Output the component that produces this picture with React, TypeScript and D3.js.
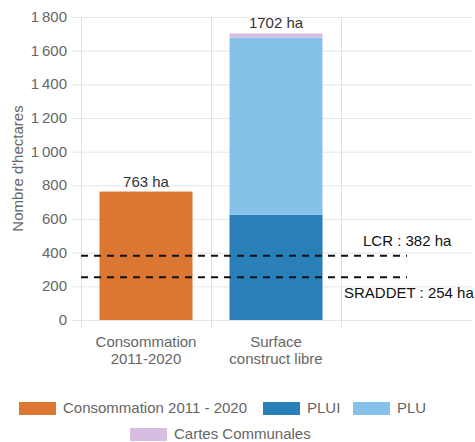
import React, { useRef, useEffect } from "react";
import * as d3 from "d3";

const categories = ["Consommation 2011-2020", "Surface construct libre", ""];
const categoryLines = [["Consommation", "2011-2020"], ["Surface", "construct libre"], []];
const conso = [763, 0, 0];
const plui = [0, 625, 0];
const plu = [0, 1053, 0];
const cartes = [0, 24, 0];
const totals = ["763 ha", "1702 ha", ""];
const yTicks = [0, 200, 400, 600, 800, 1000, 1200, 1400, 1600, 1800];
const thresholds = [
  { name: "LCR", value: 382 },
  { name: "SRADDET", value: 254 },
];
const seriesNames = ["Consommation 2011 - 2020", "PLUI", "PLU", "Cartes Communales"];
const seriesColors = ["#dc7633", "#2980b9", "#85c1e9", "#d7bde2"];

export default function App() {
  const ref = useRef<SVGSVGElement>(null);
  const width = 475;
  const height = 442;

  useEffect(() => {
    const svg = d3.select(ref.current);
    svg.selectAll("*").remove();
    const font = "'Liberation Sans', Arial, sans-serif";
    const fs = 15;
    const left = 81, right = 471, top = 17, bottom = 320;

    const x = d3.scaleBand().domain(categories).range([left, right]).paddingInner(0).paddingOuter(0);
    const y = d3.scaleLinear().domain([0, 1800]).range([bottom, top]);
    const fr = d3.formatLocale({ decimal: ",", thousands: "\u2009", grouping: [3], currency: ["", " €"] });
    const fmt = fr.format(",d");

    // horizontal grid (with small tick to the left)
    svg.append("g").selectAll("line").data(yTicks).enter().append("line")
      .attr("x1", 72).attr("x2", 473)
      .attr("y1", d => y(d) + 0.5).attr("y2", d => y(d) + 0.5)
      .attr("stroke", "#e6e6e6").attr("stroke-width", 1);

    // vertical grid at band edges
    svg.append("g").selectAll("line").data(categories).enter().append("line")
      .attr("x1", d => x(d)! + 0.5).attr("x2", d => x(d)! + 0.5)
      .attr("y1", top).attr("y2", 329)
      .attr("stroke", "#e0e0e0").attr("stroke-width", 1);

    // y tick labels
    svg.append("g").selectAll("text").data(yTicks).enter().append("text")
      .attr("x", 67).attr("y", d => y(d) + 5)
      .attr("text-anchor", "end")
      .attr("font-family", font).attr("font-size", fs).attr("fill", "#666")
      .text(d => fmt(d));

    svg.append("text")
      .attr("transform", `translate(23,${(top + bottom) / 2}) rotate(-90)`)
      .attr("text-anchor", "middle")
      .attr("font-family", font).attr("font-size", fs).attr("fill", "#666")
      .text("Nombre d'hectares");

    // stacked bars
    const rows = categories.map((c, i) => ({ cat: c, conso: conso[i], plui: plui[i], plu: plu[i], cartes: cartes[i] }));
    const keys = ["conso", "plui", "plu", "cartes"];
    const stack = d3.stack<any>().keys(keys)(rows);
    const barW = 93;
    const bw = x.bandwidth();
    stack.forEach((layer, li) => {
      svg.append("g").selectAll("rect").data(layer.filter(d => d[1] - d[0] > 0)).enter().append("rect")
        .attr("x", d => x(d.data.cat)! + (bw - barW) / 2)
        .attr("width", barW)
        .attr("y", d => y(d[1]))
        .attr("height", d => y(d[0]) - y(d[1]))
        .attr("fill", seriesColors[li]);
    });

    // total labels
    svg.append("g").selectAll("text").data(categories).enter().append("text")
      .attr("x", d => x(d)! + bw / 2)
      .attr("y", (d, i) => y(conso[i] + plui[i] + plu[i] + cartes[i]) - 5)
      .attr("text-anchor", "middle")
      .attr("font-family", font).attr("font-size", fs).attr("fill", "#333")
      .text((d, i) => totals[i]);

    // thresholds
    thresholds.forEach((t, i) => {
      svg.append("line")
        .attr("x1", left).attr("x2", 407)
        .attr("y1", y(t.value)).attr("y2", y(t.value))
        .attr("stroke", "#111").attr("stroke-width", 2)
        .attr("stroke-dasharray", "7,6");
      svg.append("text")
        .attr("x", i === 0 ? 363 : 344)
        .attr("y", i === 0 ? y(t.value) - 10 : y(t.value) + 21)
        .attr("font-family", font).attr("font-size", fs).attr("fill", "#111")
        .text(`${t.name} : ${t.value} ha`);
    });

    // x labels
    categories.forEach((c, i) => {
      categoryLines[i].forEach((line, j) => {
        svg.append("text")
          .attr("x", x(c)! + bw / 2)
          .attr("y", 347 + j * 17)
          .attr("text-anchor", "middle")
          .attr("font-family", font).attr("font-size", fs).attr("fill", "#666")
          .text(line);
      });
    });

    // legend
    const legendPos = [
      { x: 19, y: 402 },
      { x: 263, y: 402 },
      { x: 353, y: 402 },
      { x: 130, y: 428 },
    ];
    seriesNames.forEach((n, i) => {
      const p = legendPos[i];
      svg.append("rect").attr("x", p.x).attr("y", p.y).attr("width", 37).attr("height", 13)
        .attr("fill", seriesColors[i]);
      svg.append("text").attr("x", p.x + 44).attr("y", p.y + 11)
        .attr("font-family", font).attr("font-size", fs).attr("fill", "#666")
        .text(n);
    });
  }, []);

  return <svg ref={ref} width={width} height={height} style={{ position: "absolute", left: 0, top: 0 }} />;
}
